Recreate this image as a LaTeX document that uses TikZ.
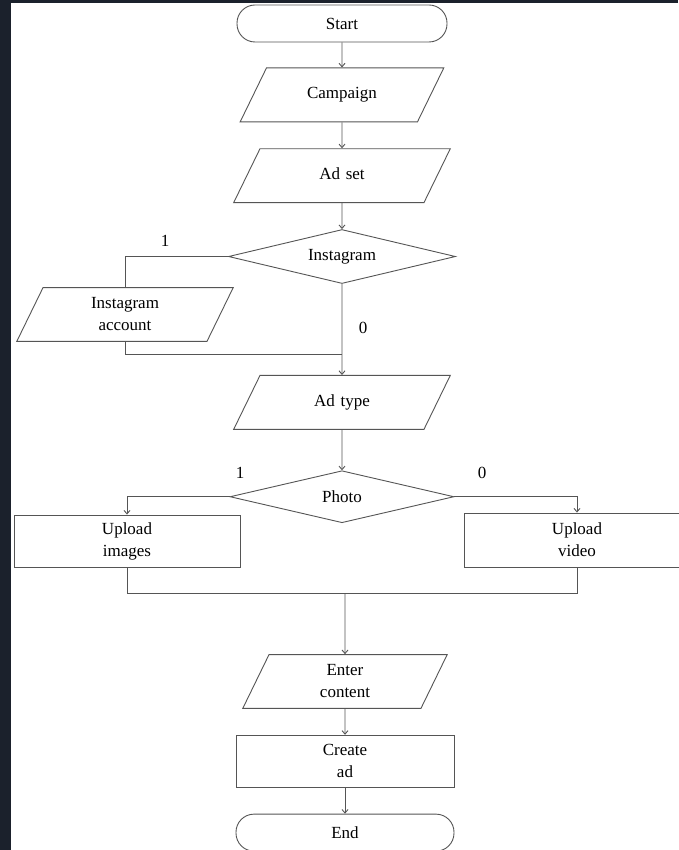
\documentclass[tikz,border=0pt]{standalone}
\usepackage{fontspec}
\setmainfont{Liberation Serif}
\usetikzlibrary{shapes.geometric, arrows.meta, calc, positioning}
\definecolor{frame}{HTML}{1B212C}
\definecolor{edge}{HTML}{555555}
\tikzstyle{startstop} = [rectangle, rounded corners=18pt, minimum width=210pt, minimum height=37pt, text centered, draw=edge, line width=0.9pt, font=\fontsize{17}{22}\selectfont]
\tikzstyle{io} = [trapezium, trapezium left angle=64, trapezium right angle=116, inner xsep=0pt, inner ysep=10.2pt, text width=164pt, align=center, draw=edge, line width=0.9pt, font=\fontsize{17}{22}\selectfont]
\tikzstyle{single} = [text height=11.6pt, text depth=3.7pt, inner ysep=19.3pt]
\tikzstyle{decision} = [diamond, aspect=4, inner sep=0pt, text centered, draw=edge, line width=0.9pt, font=\fontsize{17}{22}\selectfont]
\tikzstyle{block} = [rectangle, minimum width=226pt, minimum height=52pt, align=center, draw=edge, line width=0.9pt, font=\fontsize{17}{22}\selectfont]
\tikzstyle{label} = [font=\fontsize{17}{22}\selectfont]
\tikzstyle{line} = [draw=edge, line width=0.9pt]
\tikzstyle{arrow} = [line, -{Straight Barb[length=3.5pt, width=6pt]}]

\begin{document}
\begin{tikzpicture}[x=1pt, y=-1pt, node distance=26pt]
		\fill[frame] (0,0) rectangle (678,850);
		\fill[white] (11,3) rectangle (678,850);
		\useasboundingbox (0,0) rectangle (678,850);
		\node (start) [startstop] at (342,23.5) {Start};
		\node (campaign) [io, single, text width=151pt, below=25pt of start] {Campaign};
		\node (adset) [io, single, below=26pt of campaign] {Ad set};
		\node (insta) [decision, minimum width=227pt, minimum height=54pt, below=26pt of adset] {Instagram};
		\node (account) [io] at (125,314.5) {Instagram\\account};
		\node (adtype) [io, single, below=91pt of insta] {Ad type};
		\node (photo) [decision, minimum width=224pt, minimum height=52pt, below=40.5pt of adtype] {Photo};
		\node (images) [block] at (127,541) {Upload\\images};
		\node (video) [block, minimum height=54pt] at (577,540) {Upload\\video};
		\node (content) [io, text width=152pt, below=131pt of photo, xshift=3pt] {Enter\\content};
		\node (create) [block, minimum width=218pt, below=26pt of content] {Create\\ad};
		\node (end) [startstop, minimum width=218pt, below=26pt of create] {End};
		\coordinate (join1) at ($(insta.south)!0.78!(adtype.north)$);
		\coordinate (join2) at ($(content.north)+(0,-61)$);
		\node (yes1) [label] at (165,241) {1};
		\node (no1) [label] at (363,328) {0};
		\node (yes2) [label] at (240,473) {1};
		\node (no2) [label] at (482,473) {0};
		\draw [arrow] (start) -- (campaign);
		\draw [arrow] (campaign) -- (adset);
		\draw [arrow] (adset) -- (insta);
		\draw [line] (insta.west) -| (account.north);
		\draw [arrow] (insta) -- (adtype);
		\draw [line] (account.south) |- (join1);
		\draw [arrow] (adtype) -- (photo);
		\draw [arrow] (photo.west) -| (images.north);
		\draw [arrow] (photo.east) -| (video.north);
		\draw [line] (images.south) |- (join2);
		\draw [line] (video.south) |- (join2);
		\draw [arrow] (join2) -- (content);
		\draw [arrow] (content) -- (create);
		\draw [arrow] (create) -- (end);
	\end{tikzpicture}
\end{document}
